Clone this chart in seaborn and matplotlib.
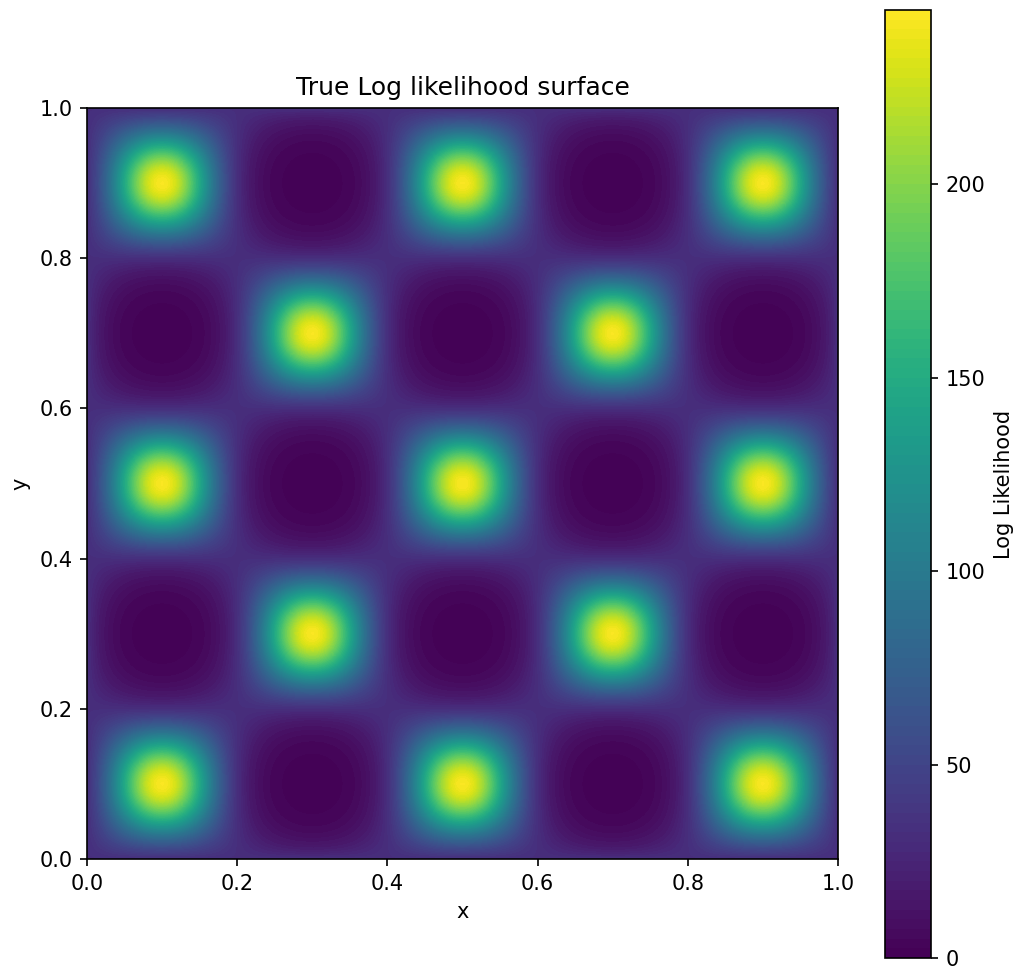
import numpy as np
import matplotlib
matplotlib.use("Agg")
import matplotlib.pyplot as plt
import seaborn as sns

# Egg-box log-likelihood surface parameters
x_range = [0.0, 1.0]
y_range = [0.0, 1.0]
grid_n = 200
freq = 5.0          # number of half-periods across unit interval
base = 2.0
power = 5
n_levels = 100
cbar_ticks = [0, 50, 100, 150, 200]
axis_ticks = [0.0, 0.2, 0.4, 0.6, 0.8, 1.0]

xs = np.linspace(x_range[0], x_range[1], grid_n)
ys = np.linspace(y_range[0], y_range[1], grid_n)
X, Y = np.meshgrid(xs, ys)
Z = (base + np.sin(freq * np.pi * X) * np.sin(freq * np.pi * Y)) ** power

cmap = sns.color_palette("viridis", as_cmap=True)

W, H = 1020, 966
DPI = 150
fig = plt.figure(figsize=(W / DPI, H / DPI), dpi=DPI)
ax = fig.add_axes([87 / W, (H - 859) / H, 751 / W, 751 / H])
cax = fig.add_axes([885 / W, (H - 958) / H, 46 / W, 948 / H])

cs = ax.contourf(X, Y, Z, levels=n_levels, cmap=cmap)
ax.set_xlim(*x_range)
ax.set_ylim(*y_range)
ax.set_xticks(axis_ticks)
ax.set_yticks(axis_ticks)
ax.set_xlabel("x")
ax.set_ylabel("y")
ax.set_title("True Log likelihood surface")

cb = fig.colorbar(cs, cax=cax)
cb.set_ticks(cbar_ticks)
cb.set_label("Log Likelihood")

fig.savefig("out.png", dpi=DPI)
